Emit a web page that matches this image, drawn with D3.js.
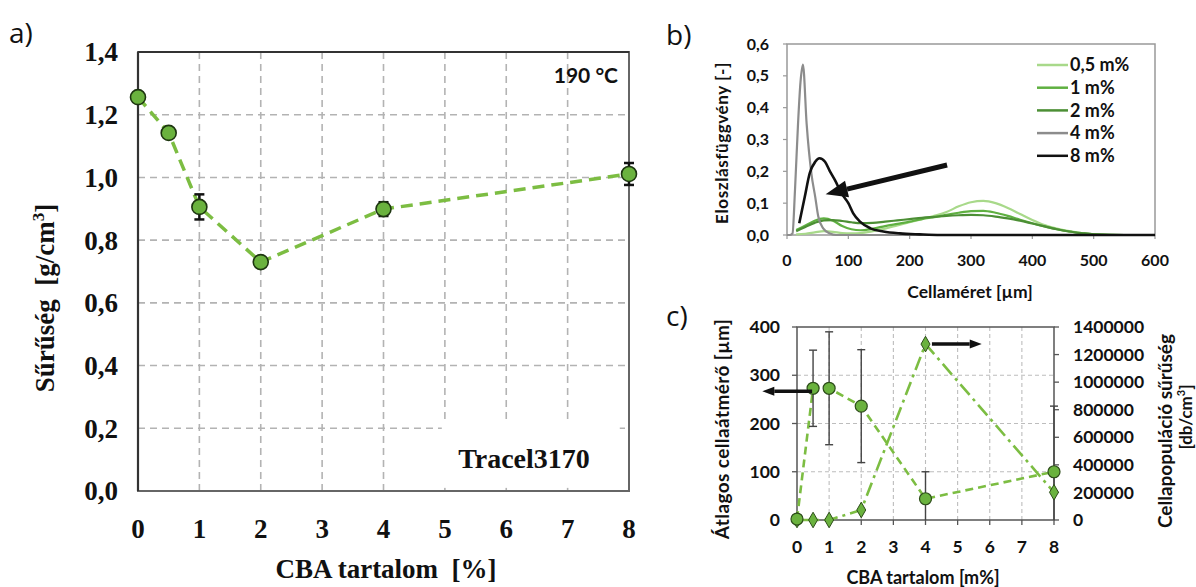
<!DOCTYPE html>
<meta charset="utf-8">
<head>
	<title>CBA tartalom - sűrűség, cellaméret</title>
</head>

<style>
body{
	margin: 0;
	background: #fff;
}
svg{
	display: block;
	background: #fff;
}
.serif{
	font-family: "Liberation Serif", "Times New Roman", serif;
	font-weight: bold;
	fill: #111;
}
.sans{
	font-family: Lato, "Open Sans", sans-serif;
	font-weight: bold;
	fill: #111;
}
.lbl{
	font-family: "Open Sans", sans-serif;
	font-weight: normal;
	fill: #111;
}
</style>

<body>
<svg width="1196" height="587"></svg>

<script src="https://cdnjs.cloudflare.com/ajax/libs/d3/7.8.5/d3.min.js"></script>
<script>

// ---------- a) sűrűség ----------
var cbaA = [0, 0.5, 1, 2, 4, 8];
var densA = [1.256, 1.142, 0.906, 0.730, 0.899, 1.011];
var errA = [0.01, 0.012, 0.04, 0.01, 0.022, 0.035];
var xTicksA = [0, 1, 2, 3, 4, 5, 6, 7, 8];
var yTicksA = [0, 0.2, 0.4, 0.6, 0.8, 1.0, 1.2, 1.4];

// ---------- b) eloszlásfüggvény ----------
var sizeGreen = [15, 30, 45, 60, 75, 90, 105, 120, 140, 160, 180, 200, 220, 240, 260, 280, 300, 320, 340, 360, 380, 400, 420, 440, 460, 480, 500, 550, 600];
var dist05 = [0.002, 0.004, 0.008, 0.012, 0.01, 0.006, 0.005, 0.006, 0.012, 0.02, 0.03, 0.04, 0.05, 0.06, 0.072, 0.09, 0.103, 0.107, 0.1, 0.085, 0.066, 0.047, 0.031, 0.02, 0.012, 0.006, 0.002, 0, 0];
var dist1 = [0.016, 0.03, 0.045, 0.052, 0.045, 0.028, 0.018, 0.015, 0.02, 0.028, 0.035, 0.042, 0.05, 0.056, 0.063, 0.07, 0.075, 0.076, 0.07, 0.06, 0.048, 0.037, 0.027, 0.018, 0.011, 0.006, 0.002, 0, 0];
var dist2 = [0.012, 0.025, 0.038, 0.046, 0.047, 0.044, 0.04, 0.037, 0.038, 0.042, 0.046, 0.05, 0.054, 0.057, 0.06, 0.062, 0.063, 0.062, 0.058, 0.052, 0.045, 0.036, 0.027, 0.018, 0.011, 0.006, 0.002, 0, 0];
var size4 = [0, 5, 9, 13, 18, 22, 26, 32, 40, 46, 51, 59, 70, 80, 100, 300, 600];
var dist4 = [0, 0, 0.005, 0.14, 0.35, 0.48, 0.535, 0.35, 0.19, 0.12, 0.058, 0.021, 0.005, 0, 0, 0, 0];
var size8 = [20, 29, 37, 46, 53, 62, 70, 78, 89, 100, 108, 119, 136, 157, 184, 216, 250, 300, 400, 500, 600];
var dist8 = [0.037, 0.12, 0.194, 0.23, 0.241, 0.23, 0.2, 0.173, 0.131, 0.1, 0.068, 0.042, 0.021, 0.011, 0.005, 0.002, 0, 0, 0, 0, 0];
var legendB = ['0,5 m%', '1 m%', '2 m%', '4 m%', '8 m%'];
var colorsB = ['#a8d98a', '#5fb041', '#4c8f35', '#8c8c8c', '#111111'];
var xTicksB = [0, 100, 200, 300, 400, 500, 600];
var yTicksB = [0, 0.1, 0.2, 0.3, 0.4, 0.5, 0.6];

// ---------- c) cellaátmérő és cellapopuláció ----------
var cbaC = [0, 0.5, 1, 2, 4, 8];
var diamC = [2, 273, 273, 236, 44, 100];
var diamErrC = [0, 79, 117, 117, 56, 136];
var popC = [0, 0, 0, 72500, 1276000, 201000];
var xTicksC = [0, 1, 2, 3, 4, 5, 6, 7, 8];
var yTicksC = [0, 100, 200, 300, 400];
var y2TicksC = [0, 200000, 400000, 600000, 800000, 1000000, 1200000, 1400000];

var svg = d3.select('svg');
var comma = function(d){ return d3.format('.1f')(d).replace('.', ','); };

// nyíl: vonal + háromszög fej
function arrow(g, x1, y1, x2, y2, w, hl, hw){
	var a = Math.atan2(y2 - y1, x2 - x1);
	var bx = x2 - hl * Math.cos(a), by = y2 - hl * Math.sin(a);
	g.append('line')
		.attr('x1', x1).attr('y1', y1).attr('x2', bx).attr('y2', by)
		.attr('stroke', '#111').attr('stroke-width', w);
	var px = -Math.sin(a) * hw / 2, py = Math.cos(a) * hw / 2;
	g.append('path')
		.attr('d', 'M' + x2 + ',' + y2 + 'L' + (bx + px) + ',' + (by + py) + 'L' + (bx - px) + ',' + (by - py) + 'Z')
		.attr('fill', '#111');
}

// =============== a) ===============
var xA = d3.scaleLinear().domain([0, 8]).range([138, 629]);
var yA = d3.scaleLinear().domain([0, 1.4]).range([491, 52]);
var gA = svg.append('g');

gA.selectAll('.hg').data(yTicksA.filter(function(d){ return d > 0 && d < 1.4; })).enter()
	.append('line')
	.attr('x1', xA(0)).attr('x2', xA(8))
	.attr('y1', function(d){ return yA(d); }).attr('y2', function(d){ return yA(d); })
	.attr('stroke', '#b3b3b3').attr('stroke-width', 1.6).attr('stroke-dasharray', '7,5');
gA.selectAll('.vg').data(xTicksA.filter(function(d){ return d > 0 && d < 8; })).enter()
	.append('line')
	.attr('y1', yA(1.4)).attr('y2', yA(0))
	.attr('x1', function(d){ return xA(d); }).attr('x2', function(d){ return xA(d); })
	.attr('stroke', '#b3b3b3').attr('stroke-width', 1.6).attr('stroke-dasharray', '7,5');

// felirat doboz
gA.append('rect').attr('x', xA(4.95)).attr('y', yA(0.215)).attr('width', xA(7.85) - xA(4.95)).attr('height', yA(0.01) - yA(0.215)).attr('fill', '#fff');

gA.append('rect')
	.attr('x', xA(0)).attr('y', yA(1.4)).attr('width', xA(8) - xA(0)).attr('height', yA(0) - yA(1.4))
	.attr('fill', 'none').attr('stroke', '#666').attr('stroke-width', 2);
gA.append('line').attr('x1', xA(0)).attr('x2', xA(0)).attr('y1', yA(1.4)).attr('y2', yA(0))
	.attr('stroke', '#333').attr('stroke-width', 2.2);
gA.append('line').attr('x1', xA(0)).attr('x2', xA(8)).attr('y1', yA(1.4)).attr('y2', yA(1.4))
	.attr('stroke', '#333').attr('stroke-width', 2);

gA.selectAll('.yt').data(yTicksA).enter().append('text')
	.attr('class', 'serif').attr('font-size', 27)
	.attr('text-anchor', 'end').attr('dy', '0.35em')
	.attr('x', 118).attr('y', function(d){ return yA(d); })
	.text(comma);
gA.selectAll('.xt').data(xTicksA).enter().append('text')
	.attr('class', 'serif').attr('font-size', 27)
	.attr('text-anchor', 'middle')
	.attr('x', function(d){ return xA(d); }).attr('y', 538)
	.text(function(d){ return d; });

gA.append('text').attr('class', 'serif').attr('font-size', 27)
	.attr('text-anchor', 'middle').attr('x', 386).attr('y', 578)
	.text('CBA tartalom\u00a0 [%]');
var yTitleA = gA.append('text').attr('class', 'serif').attr('font-size', 27)
	.attr('text-anchor', 'middle').attr('transform', 'translate(54,298) rotate(-90)');
yTitleA.append('tspan').text('Sűrűség\u00a0 [g/cm');
yTitleA.append('tspan').attr('font-size', 17).attr('dy', -10).text('3');
yTitleA.append('tspan').attr('dy', 10).text(']');

gA.append('text').attr('class', 'sans').attr('font-size', 21)
	.attr('text-anchor', 'end').attr('x', 618).attr('y', 83).text('190 °C');
gA.append('text').attr('class', 'serif').attr('font-size', 28)
	.attr('text-anchor', 'middle').attr('x', 524).attr('y', 468).text('Tracel3170');

var lineA = d3.line()
	.x(function(d, i){ return xA(cbaA[i]); })
	.y(function(d){ return yA(d); });
gA.append('path').attr('d', lineA(densA))
	.attr('fill', 'none').attr('stroke', '#7cbd42').attr('stroke-width', 3.5).attr('stroke-dasharray', '12,7');

densA.forEach(function(d, i){
	var x = xA(cbaA[i]);
	gA.append('line').attr('x1', x).attr('x2', x).attr('y1', yA(d + errA[i])).attr('y2', yA(d - errA[i]))
		.attr('stroke', '#111').attr('stroke-width', 2.5);
	[d + errA[i], d - errA[i]].forEach(function(v){
		gA.append('line').attr('x1', x - 5).attr('x2', x + 5).attr('y1', yA(v)).attr('y2', yA(v))
			.attr('stroke', '#111').attr('stroke-width', 2.5);
	});
});
gA.selectAll('.pt').data(densA).enter().append('circle')
	.attr('cx', function(d, i){ return xA(cbaA[i]); })
	.attr('cy', function(d){ return yA(d); })
	.attr('r', 7.5)
	.attr('fill', '#6ab23e').attr('stroke', '#1d3510').attr('stroke-width', 1.6);

svg.append('text').attr('class', 'lbl').attr('font-size', 28).attr('x', 9).attr('y', 43).text('a)');

// =============== b) ===============
var xB = d3.scaleLinear().domain([0, 600]).range([787, 1155]);
var yB = d3.scaleLinear().domain([0, 0.6]).range([235, 44]);
var gB = svg.append('g');

gB.append('rect')
	.attr('x', xB(0)).attr('y', yB(0.6)).attr('width', xB(600) - xB(0)).attr('height', yB(0) - yB(0.6))
	.attr('fill', 'none').attr('stroke', '#999').attr('stroke-width', 1.5);
gB.selectAll('.ytk').data(yTicksB).enter().append('line')
	.attr('x1', xB(0) - 4).attr('x2', xB(0))
	.attr('y1', function(d){ return yB(d); }).attr('y2', function(d){ return yB(d); })
	.attr('stroke', '#999').attr('stroke-width', 1.2);
gB.selectAll('.xtk').data(xTicksB).enter().append('line')
	.attr('y1', yB(0)).attr('y2', yB(0) + 4)
	.attr('x1', function(d){ return xB(d); }).attr('x2', function(d){ return xB(d); })
	.attr('stroke', '#999').attr('stroke-width', 1.2);

gB.selectAll('.yt').data(yTicksB).enter().append('text')
	.attr('class', 'sans').attr('font-size', 16)
	.attr('text-anchor', 'end').attr('dy', '0.35em')
	.attr('x', 769).attr('y', function(d){ return yB(d); })
	.text(comma);
gB.selectAll('.xt').data(xTicksB).enter().append('text')
	.attr('class', 'sans').attr('font-size', 16)
	.attr('text-anchor', 'middle')
	.attr('x', function(d){ return xB(d); }).attr('y', 266)
	.text(function(d){ return d; });
gB.append('text').attr('class', 'sans').attr('font-size', 17.5)
	.attr('text-anchor', 'middle').attr('x', 970).attr('y', 298).text('Cellaméret [µm]');
gB.append('text').attr('class', 'sans').attr('font-size', 17)
	.attr('letter-spacing', 0.6)
	.attr('text-anchor', 'middle').attr('transform', 'translate(728,143) rotate(-90)')
	.text('Eloszlásfüggvény [-]');

var lineB = d3.line().curve(d3.curveMonotoneX)
	.x(function(d){ return xB(d[0]); })
	.y(function(d){ return yB(d[1]); });
var seriesB = [
	d3.zip(sizeGreen, dist05),
	d3.zip(sizeGreen, dist1),
	d3.zip(sizeGreen, dist2),
	d3.zip(size4, dist4),
	d3.zip(size8, dist8)
];
seriesB.forEach(function(s, i){
	gB.append('path').attr('d', lineB(s))
		.attr('fill', 'none').attr('stroke', colorsB[i])
		.attr('stroke-width', i == 4 ? 2.6 : 2.2);
});

legendB.forEach(function(t, i){
	var y = 65 + i * 22.7;
	gB.append('line').attr('x1', 1037).attr('x2', 1068).attr('y1', y).attr('y2', y)
		.attr('stroke', colorsB[i]).attr('stroke-width', 2.5);
	gB.append('text').attr('class', 'sans').attr('font-size', 18)
		.attr('x', 1070).attr('y', y).attr('dy', '0.35em').text(t);
});

arrow(gB, xB(261), yB(0.22), xB(63), yB(0.128), 5, 22, 17);

svg.append('text').attr('class', 'lbl').attr('font-size', 28).attr('x', 666).attr('y', 45).text('b)');

// =============== c) ===============
var xC = d3.scaleLinear().domain([0, 8]).range([797, 1054]);
var yC = d3.scaleLinear().domain([0, 400]).range([520, 327]);
var yC2 = d3.scaleLinear().domain([0, 1400000]).range([520, 327]);
var gC = svg.append('g');

gC.selectAll('.hg').data([100, 200, 300]).enter().append('line')
	.attr('x1', xC(0)).attr('x2', xC(8))
	.attr('y1', function(d){ return yC(d); }).attr('y2', function(d){ return yC(d); })
	.attr('stroke', '#bdbdbd').attr('stroke-width', 1.1).attr('stroke-dasharray', '4,3');
gC.selectAll('.vg').data(xTicksC.filter(function(d){ return d > 0 && d < 8; })).enter().append('line')
	.attr('y1', yC(400)).attr('y2', yC(0))
	.attr('x1', function(d){ return xC(d); }).attr('x2', function(d){ return xC(d); })
	.attr('stroke', '#bdbdbd').attr('stroke-width', 1.1).attr('stroke-dasharray', '4,3');

gC.append('rect')
	.attr('x', xC(0)).attr('y', yC(400)).attr('width', xC(8) - xC(0)).attr('height', yC(0) - yC(400))
	.attr('fill', 'none').attr('stroke', '#555').attr('stroke-width', 1.5);
gC.selectAll('.ytk').data(yTicksC).enter().append('line')
	.attr('x1', xC(0) - 5).attr('x2', xC(0))
	.attr('y1', function(d){ return yC(d); }).attr('y2', function(d){ return yC(d); })
	.attr('stroke', '#555').attr('stroke-width', 1.3);
gC.selectAll('.y2tk').data(y2TicksC).enter().append('line')
	.attr('x1', xC(8)).attr('x2', xC(8) + 5)
	.attr('y1', function(d){ return yC2(d); }).attr('y2', function(d){ return yC2(d); })
	.attr('stroke', '#555').attr('stroke-width', 1.3);
gC.selectAll('.xtk').data(xTicksC).enter().append('line')
	.attr('y1', yC(0)).attr('y2', yC(0) + 5)
	.attr('x1', function(d){ return xC(d); }).attr('x2', function(d){ return xC(d); })
	.attr('stroke', '#555').attr('stroke-width', 1.3);

gC.selectAll('.yt').data(yTicksC).enter().append('text')
	.attr('class', 'sans').attr('font-size', 17.5)
	.attr('text-anchor', 'end').attr('dy', '0.35em')
	.attr('x', 780).attr('y', function(d){ return yC(d); })
	.text(function(d){ return d; });
gC.selectAll('.y2t').data(y2TicksC).enter().append('text')
	.attr('class', 'sans').attr('font-size', 17.5)
	.attr('dy', '0.35em')
	.attr('x', 1073).attr('y', function(d){ return yC2(d); })
	.text(function(d){ return d; });
gC.selectAll('.xt').data(xTicksC).enter().append('text')
	.attr('class', 'sans').attr('font-size', 17.5)
	.attr('text-anchor', 'middle')
	.attr('x', function(d){ return xC(d); }).attr('y', 553)
	.text(function(d){ return d; });

gC.append('text').attr('class', 'sans').attr('font-size', 18)
	.attr('text-anchor', 'middle').attr('x', 923).attr('y', 584).text('CBA tartalom [m%]');
gC.append('text').attr('class', 'sans').attr('font-size', 19)
	.attr('letter-spacing', 0.4)
	.attr('text-anchor', 'middle').attr('transform', 'translate(729,429) rotate(-90)')
	.text('Átlagos cellaátmérő [µm]');
gC.append('text').attr('class', 'sans').attr('font-size', 19)
	.attr('text-anchor', 'middle').attr('transform', 'translate(1172,431) rotate(-90)')
	.text('Cellapopuláció sűrűség');
var y2Title = gC.append('text').attr('class', 'sans').attr('font-size', 17)
	.attr('text-anchor', 'middle').attr('transform', 'translate(1192,417) rotate(-90)');
y2Title.append('tspan').text('[db/cm');
y2Title.append('tspan').attr('font-size', 11).attr('dy', -7).text('3');
y2Title.append('tspan').attr('dy', 7).text(']');

var lineC1 = d3.line()
	.x(function(d, i){ return xC(cbaC[i]); })
	.y(function(d){ return yC(d); });
var lineC2 = d3.line()
	.x(function(d, i){ return xC(cbaC[i]); })
	.y(function(d){ return yC2(d); });

gC.append('path').attr('d', lineC2(popC))
	.attr('fill', 'none').attr('stroke', '#7cbd42').attr('stroke-width', 2.6)
	.attr('stroke-dasharray', '14,5,3,5');
gC.append('path').attr('d', lineC1(diamC))
	.attr('fill', 'none').attr('stroke', '#7cbd42').attr('stroke-width', 2.6)
	.attr('stroke-dasharray', '8,5');

diamC.forEach(function(d, i){
	if (!diamErrC[i]) return;
	var x = xC(cbaC[i]);
	var hi = d + diamErrC[i], lo = Math.max(0, d - diamErrC[i]);
	gC.append('line').attr('x1', x).attr('x2', x).attr('y1', yC(hi)).attr('y2', yC(lo))
		.attr('stroke', '#444').attr('stroke-width', 1.4);
	gC.append('line').attr('x1', x - 4).attr('x2', x + 4).attr('y1', yC(hi)).attr('y2', yC(hi))
		.attr('stroke', '#444').attr('stroke-width', 1.4);
	if (lo > 0) {
		gC.append('line').attr('x1', x - 4).attr('x2', x + 4).attr('y1', yC(lo)).attr('y2', yC(lo))
			.attr('stroke', '#444').attr('stroke-width', 1.4);
	}
});

gC.selectAll('.dm').data(popC).enter().append('path')
	.attr('d', d3.symbol().type(d3.symbolDiamond).size(70))
	.attr('transform', function(d, i){ return 'translate(' + xC(cbaC[i]) + ',' + yC2(d) + ')'; })
	.attr('fill', '#6ab23e').attr('stroke', '#2d4d1a').attr('stroke-width', 1);
gC.selectAll('.ci').data(diamC).enter().append('circle')
	.attr('cx', function(d, i){ return xC(cbaC[i]); })
	.attr('cy', function(d){ return yC(d); })
	.attr('r', 6)
	.attr('fill', '#6ab23e').attr('stroke', '#2d4d1a').attr('stroke-width', 1.2);

arrow(gC, xC(0.47), yC(267), xC(-1.08), yC(267), 3.5, 12, 9);
arrow(gC, xC(4.2), yC2(1276000), xC(5.75), yC2(1276000), 3.5, 12, 9);

svg.append('text').attr('class', 'lbl').attr('font-size', 28).attr('x', 666).attr('y', 326).text('c)');

</script>
</body>
</html>
